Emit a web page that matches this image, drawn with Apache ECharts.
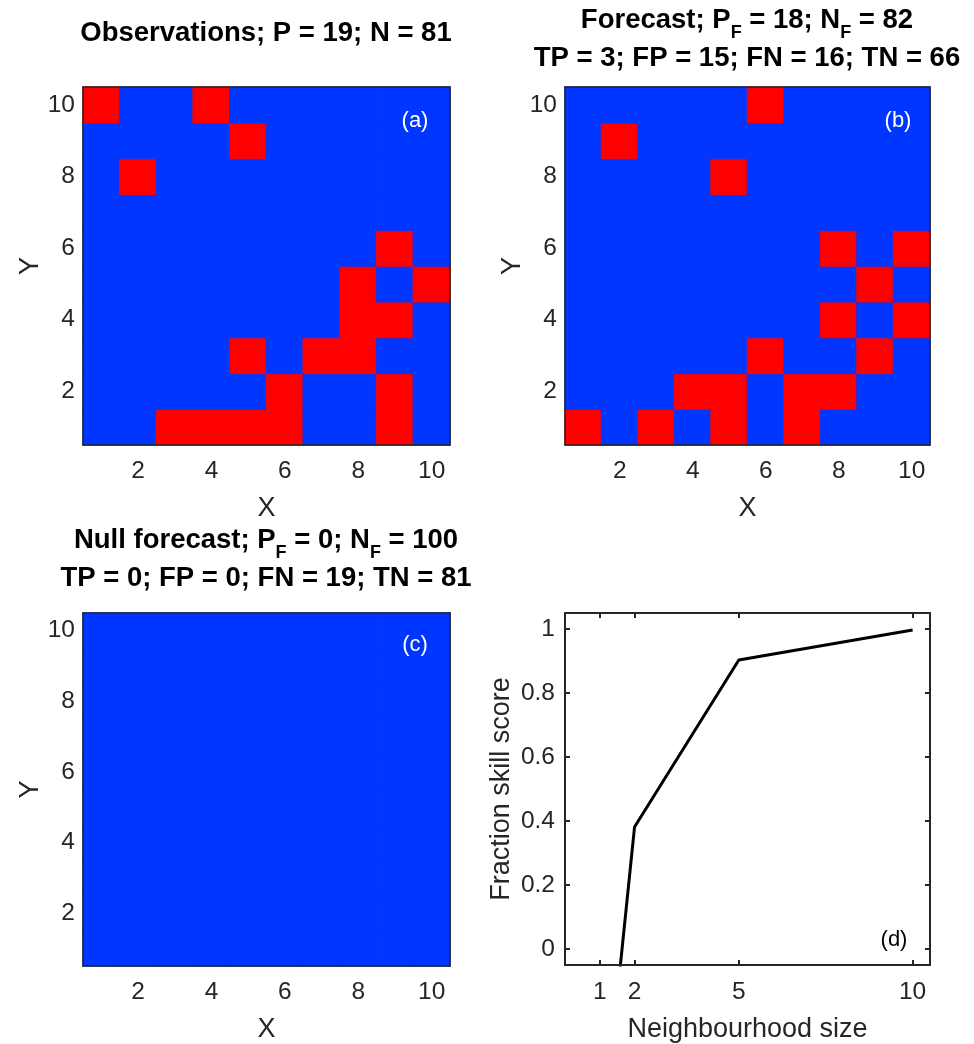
<!DOCTYPE html>
<html>
<head>
<meta charset="utf-8">
<script src="https://cdn.jsdelivr.net/npm/echarts@6/dist/echarts.min.js"></script>
<style>
html,body{margin:0;padding:0;background:#fff;}
#chart{width:974px;height:1044px;}
</style>
</head>
<body>
<div id="chart"></div>
<script>
// ---------- DATA ----------
const gridCells = [1, 2, 3, 4, 5, 6, 7, 8, 9, 10];
// red (event) cells [x, y] of the observation field
const obsEvents = [[1,10],[4,10],[5,9],[2,8],[9,6],[8,5],[10,5],[8,4],[9,4],[5,3],[7,3],[8,3],[6,2],[9,2],[3,1],[4,1],[5,1],[6,1],[9,1]];
// red (event) cells [x, y] of the forecast field
const fcstEvents = [[6,10],[2,9],[5,8],[8,6],[10,6],[9,5],[8,4],[10,4],[6,3],[9,3],[4,2],[5,2],[7,2],[8,2],[1,1],[3,1],[5,1],[7,1]];
// null forecast: no events
const nullEvents = [];
// fraction skill score vs neighbourhood size
const nbhdSize = [1, 2, 5, 10];
const fssValues = [-0.68, 0.381, 0.903, 0.997];
const fssXTicks = [1, 2, 5, 10];
const fssYTicks = [0, 0.2, 0.4, 0.6, 0.8, 1];

// ---------- BUILD ----------
const BLUE = '#0036ff', RED = '#ff0000', AX = '#262626';
const FONT = 'Liberation Sans';

function field(events) {
  const out = [];
  for (const x of gridCells) for (const y of gridCells) {
    const ev = events.some(e => e[0] === x && e[1] === y) ? 1 : 0;
    const c = ev ? RED : BLUE;
    out.push({value: [x - 1, y - 1, ev], itemStyle: {color: c, borderColor: c, borderWidth: 0.8}});
  }
  return out;
}

const grids = [
  {left: 83, top: 87, width: 367, height: 358},
  {left: 565, top: 87, width: 365, height: 358},
  {left: 83, top: 613, width: 367, height: 355},
  {left: 565, top: 613, width: 365, height: 355}
];

const tickLbl = {color: AX, fontSize: 24.5, fontFamily: FONT};
const nameStyle = {color: AX, fontSize: 27, fontFamily: FONT};

const xAxes = [], yAxes = [];
for (let g = 0; g < 3; g++) {
  xAxes.push({
    gridIndex: g, type: 'category', data: gridCells, position: 'bottom', z: 10,
    name: 'X', nameLocation: 'middle', nameGap: 50, nameTextStyle: nameStyle,
    axisLine: {show: true, onZero: false, lineStyle: {color: AX, width: 1.5}},
    axisTick: {show: false},
    axisLabel: Object.assign({interval: 0, margin: 14, formatter: v => (v % 2 === 0 ? v : '')}, tickLbl),
    splitLine: {show: false}
  });
  xAxes.push({
    gridIndex: g, type: 'category', data: gridCells, position: 'top', z: 10,
    axisLine: {show: true, onZero: false, lineStyle: {color: AX, width: 1.5}},
    axisTick: {show: false}, axisLabel: {show: false}, splitLine: {show: false}
  });
  yAxes.push({
    gridIndex: g, type: 'category', data: gridCells, position: 'left', z: 10,
    name: 'Y', nameLocation: 'middle', nameGap: 39, nameRotate: 90, nameTextStyle: nameStyle,
    axisLine: {show: true, onZero: false, lineStyle: {color: AX, width: 1.5}},
    axisTick: {show: false},
    axisLabel: Object.assign({interval: 0, margin: 8, formatter: v => (v % 2 === 0 ? v : '')}, tickLbl),
    splitLine: {show: false}
  });
  yAxes.push({
    gridIndex: g, type: 'category', data: gridCells, position: 'right', z: 10,
    axisLine: {show: true, onZero: false, lineStyle: {color: AX, width: 1.5}},
    axisTick: {show: false}, axisLabel: {show: false}, splitLine: {show: false}
  });
}
// panel (d)
const tickStyle = {show: true, inside: true, length: 5, lineStyle: {color: AX, width: 2}};
xAxes.push({
  gridIndex: 3, type: 'value', min: 0, max: 10.5, position: 'bottom', z: 10,
  name: 'Neighbourhood size', nameLocation: 'middle', nameGap: 51, nameTextStyle: nameStyle,
  axisLine: {show: true, onZero: false, lineStyle: {color: AX, width: 2}},
  axisTick: Object.assign({customValues: fssXTicks}, tickStyle),
  axisLabel: Object.assign({customValues: fssXTicks, margin: 15}, tickLbl),
  splitLine: {show: false}
});
xAxes.push({
  gridIndex: 3, type: 'value', min: 0, max: 10.5, position: 'top', z: 10,
  axisLine: {show: true, onZero: false, lineStyle: {color: AX, width: 2}},
  axisTick: Object.assign({customValues: fssXTicks}, tickStyle),
  axisLabel: {show: false}, splitLine: {show: false}
});
yAxes.push({
  gridIndex: 3, type: 'value', min: -0.05, max: 1.05, position: 'left', z: 10,
  name: 'Fraction skill score', nameLocation: 'middle', nameGap: 50, nameRotate: 90, nameTextStyle: nameStyle,
  axisLine: {show: true, onZero: false, lineStyle: {color: AX, width: 2}},
  axisTick: Object.assign({customValues: fssYTicks}, tickStyle),
  axisLabel: Object.assign({customValues: fssYTicks, margin: 10}, tickLbl),
  splitLine: {show: false}
});
yAxes.push({
  gridIndex: 3, type: 'value', min: -0.05, max: 1.05, position: 'right', z: 10,
  axisLine: {show: true, onZero: false, lineStyle: {color: AX, width: 2}},
  axisTick: Object.assign({customValues: fssYTicks}, tickStyle),
  axisLabel: {show: false}, splitLine: {show: false}
});

const titleRich = {
  m: {fontSize: 27.5, fontWeight: 'bold', fontFamily: FONT, color: '#000', lineHeight: 37.5},
  s: {fontSize: 18, fontWeight: 'bold', fontFamily: FONT, color: '#000', lineHeight: 37.5, padding: [24, 0, 0, 0]}
};
const titles = [
  {text: '{m|Observations; P = 19; N = 81}', left: 266, top: 15},
  {text: '{m|Forecast; P}{s|F}{m| = 18; N}{s|F}{m| = 82}\n{m|TP = 3; FP = 15; FN = 16; TN = 66}', left: 747, top: 2},
  {text: '{m|Null forecast; P}{s|F}{m| = 0; N}{s|F}{m| = 100}\n{m|TP = 0; FP = 0; FN = 19; TN = 81}', left: 266, top: 522}
].map(t => ({text: t.text, left: t.left, top: t.top, textAlign: 'center', padding: 0,
  textStyle: {rich: titleRich, fontSize: 27.5, fontWeight: 'bold', lineHeight: 37.5}}));

const panelLabel = (txt, x, y, color) => ({
  type: 'text', x: x, y: y, z: 100,
  style: {text: txt, fill: color, fontSize: 22, fontFamily: FONT, align: 'center', verticalAlign: 'middle'}
});

const heat = (idx, events) => ({
  type: 'heatmap', xAxisIndex: idx * 2, yAxisIndex: idx * 2, data: field(events),
  emphasis: {disabled: true}, progressive: 0
});

const option = {
  backgroundColor: '#fff',
  animation: false,
  title: titles,
  grid: grids,
  xAxis: xAxes,
  yAxis: yAxes,
  series: [
    heat(0, obsEvents),
    heat(1, fcstEvents),
    heat(2, nullEvents),
    {
      type: 'line', xAxisIndex: 6, yAxisIndex: 6, clip: true, symbol: 'none',
      lineStyle: {color: '#000', width: 3}, itemStyle: {color: '#000'},
      data: nbhdSize.map((x, i) => [x, fssValues[i]])
    }
  ],
  graphic: [
    panelLabel('(a)', 415, 121, '#fff'),
    panelLabel('(b)', 898, 121, '#fff'),
    panelLabel('(c)', 415, 645, '#fff'),
    panelLabel('(d)', 894, 940, '#000')
  ]
};
const chart = echarts.init(document.getElementById('chart'), null, {renderer: 'canvas'});
chart.setOption(option);
</script>
</body>
</html>
